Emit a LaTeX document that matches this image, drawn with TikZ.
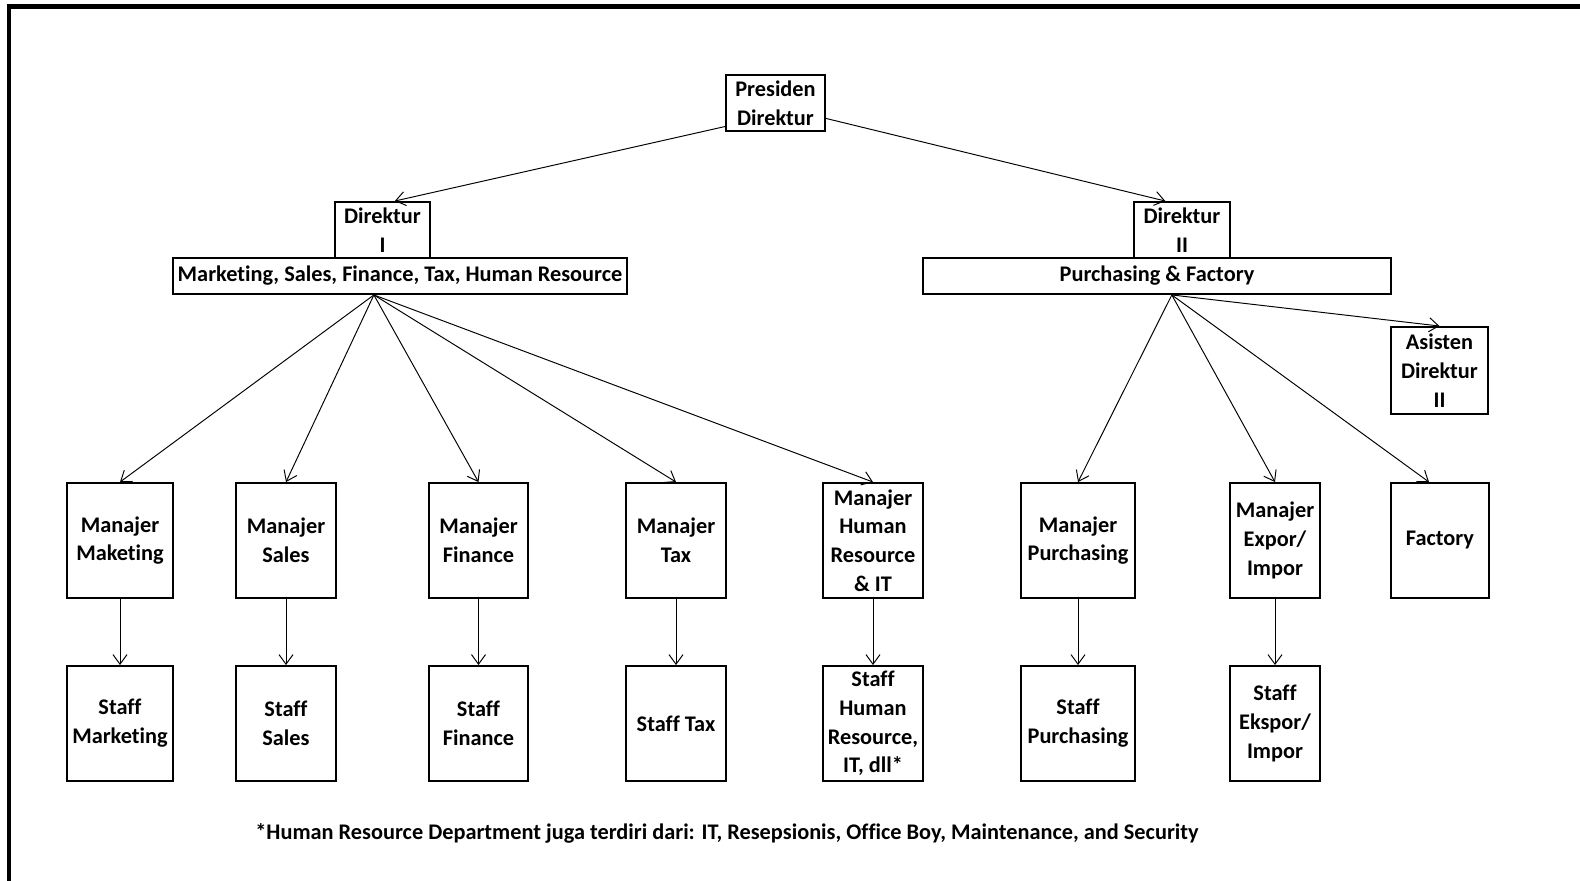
\documentclass[tikz,border=0pt]{standalone}
\usepackage{fontspec}
\setmainfont{Carlito}[Ligatures=NoCommon]
\usetikzlibrary{arrows.meta,calc}

\begin{document}
\begin{tikzpicture}[
    x=0.02cm, y=-0.02cm,
    unit/.style={draw, line width=1.1pt, align=center, inner sep=1pt,
      font=\fontsize{12.7}{16.4}\selectfont\bfseries},
    link/.style={line width=0.55pt, -{Straight Barb[length=5.5pt, width=8pt]}},
]
\useasboundingbox (0,0) rectangle (1580,881);
\draw[line width=2.3pt] (9,881) -- (9,6.5) -- (1580,6.5);

% top of the chart
\node[unit, minimum width=1.98cm, minimum height=1.12cm] (pres) at (775.5,103) {Presiden\\Direktur};
\node[unit, minimum width=1.9cm, minimum height=1.12cm] (d1) at (382.5,230) {Direktur\\I};
\node[unit, minimum width=9.08cm, minimum height=0.72cm] (bar1) at (400,276) {Marketing, Sales, Finance, Tax, Human Resource};
\node[unit, minimum width=1.92cm, minimum height=1.12cm] (d2) at (1182,230) {Direktur\\II};
\node[unit, minimum width=9.36cm, minimum height=0.72cm] (bar2) at (1157,276) {Purchasing \& Factory};
\node[unit, minimum width=1.94cm, minimum height=1.74cm] (asis) at (1439.5,370.5) {Asisten\\Direktur\\II};

\draw[link] (pres.205) -- (d1.67);
\draw[link] (pres.-17) -- (d2.120);

% managers and their staff
\foreach \n/\x/\w/\mtext/\stext in {
    mk/120/2.12/{Manajer\\Maketing}/{Staff\\Marketing},
    sa/286/2.0/{Manajer\\Sales}/{Staff\\Sales},
    fi/478.5/1.98/{Manajer\\Finance}/{Staff\\Finance},
    tx/676/2.0/{Manajer\\Tax}/{Staff Tax},
    hr/873/2.0/{Manajer\\Human\\Resource\\\& IT}/{Staff\\Human\\Resource,\\IT, dll*},
    pu/1078/2.28/{Manajer\\Purchasing}/{Staff\\Purchasing},
    ex/1275/1.8/{Manajer\\Expor/\\Impor}/{Staff\\Ekspor/\\Impor}} {
  \node[unit, minimum width=\w cm, minimum height=2.3cm] (m\n) at (\x,540.5) {\mtext};
  \node[unit, minimum width=\w cm, minimum height=2.3cm] (s\n) at (\x,723.5) {\stext};
  \draw[link] (m\n.south) -- (s\n.north);
}
\node[unit, minimum width=1.96cm, minimum height=2.3cm] (mfa) at (1440,540.5) {Factory};

\foreach \n in {mk,sa,fi,tx,hr}
  \draw[link] (bar1.216) -- (m\n.north);
\foreach \n in {pu,ex}
  \draw[link] (bar2.-52) -- (m\n.north);
\draw[link] (bar2.-52) -- ($(mfa.north)+(-11,0)$);
\draw[link] (bar2.-52) -- (asis.north);

\node[font=\fontsize{12.7}{16.4}\selectfont\bfseries] (note) at (727,833)
  {*Human Resource Department juga terdiri dari: IT, Resepsionis, Office Boy, Maintenance, and Security};
\end{tikzpicture}
\end{document}
